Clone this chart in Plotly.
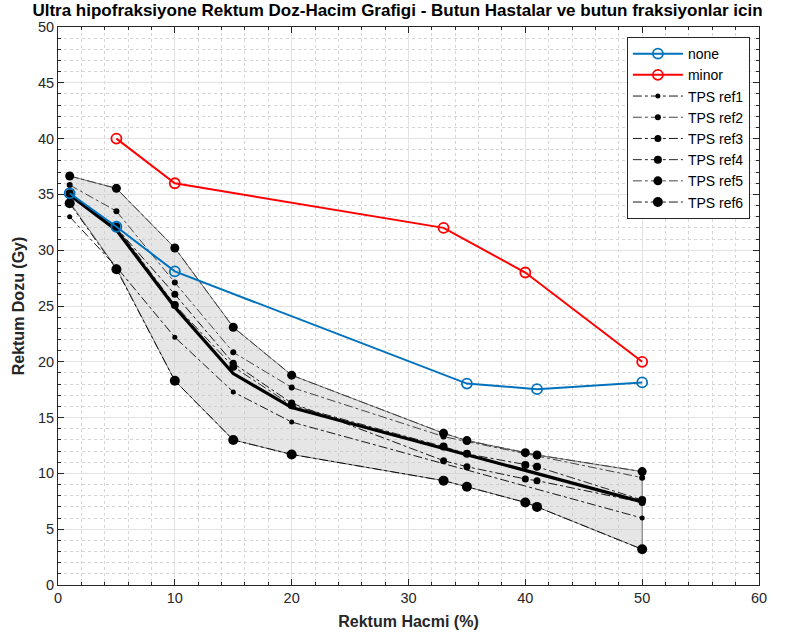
import plotly.graph_objects as go

# ---- data ----
none_x = [1, 5, 10, 35, 41, 50]
none_y = [35.1, 32.1, 28.1, 18.05, 17.55, 18.15]

minor_x = [5, 10, 33, 40, 50]
minor_y = [40.0, 36.0, 32.0, 28.0, 20.0]

ref1_x = [1, 5, 10, 15, 20, 50]
ref1_y = [33.0, 28.5, 22.2, 17.3, 14.6, 6.0]
ref2_x = [1, 5, 10, 15, 20, 33, 35, 50]
ref2_y = [35.84, 33.5, 27.1, 20.85, 17.7, 13.3, 12.85, 9.62]
ref3_x = [1, 5, 10, 15, 20, 33, 35, 40, 41, 50]
ref3_y = [34.9, 32.0, 26.05, 19.87, 16.3, 11.14, 10.6, 9.5, 9.35, 7.4]
ref4_x = [1, 5, 10, 15, 20, 33, 35, 40, 41, 50]
ref4_y = [35.1, 32.1, 25.1, 19.56, 16.1, 12.4, 11.75, 10.75, 10.6, 7.62]
ref5_x = [1, 5, 10, 15, 20, 33, 35, 40, 41, 50]
ref5_y = [36.65, 35.54, 30.2, 23.1, 18.8, 13.6, 12.94, 11.86, 11.65, 10.16]
ref6_x = [1, 5, 10, 15, 20, 33, 35, 40, 41, 50]
ref6_y = [34.2, 28.3, 18.3, 13.0, 11.7, 9.35, 8.8, 7.4, 7.0, 3.2]

mean_x = [1, 5, 10, 15, 20, 50]
mean_y = [34.95, 31.8, 24.9, 18.95, 15.9, 7.45]

band_x = [1, 5, 10, 15, 20, 33, 35, 40, 41, 50]
band_upper = [36.65, 35.54, 30.2, 23.1, 18.8, 13.6, 12.94, 11.86, 11.65, 10.16]
band_lower = [34.3, 28.4, 18.3, 13.0, 11.7, 9.35, 8.8, 7.4, 7.0, 3.2]

x_ticks = [0, 10, 20, 30, 40, 50, 60]
y_ticks = [0, 5, 10, 15, 20, 25, 30, 35, 40, 45, 50]

refs = [
    ("TPS ref1", ref1_x, ref1_y, 5, "#000000"),
    ("TPS ref2", ref2_x, ref2_y, 6, "#333333"),
    ("TPS ref3", ref3_x, ref3_y, 7, "#000000"),
    ("TPS ref4", ref4_x, ref4_y, 8, "#111111"),
    ("TPS ref5", ref5_x, ref5_y, 9, "#333333"),
    ("TPS ref6", ref6_x, ref6_y, 10, "#000000"),
]

FONT = "Liberation Sans, Arial, Helvetica, sans-serif"
fig = go.Figure()

# shaded band
fig.add_trace(go.Scatter(
    x=band_x + band_x[::-1], y=band_upper + band_lower[::-1],
    fill="toself", fillcolor="rgba(200,200,200,0.45)",
    line=dict(color="#555555", width=0.8), mode="lines",
    showlegend=False, hoverinfo="skip"))

for i, (name, xs, ys, ms, col) in enumerate(refs):
    fig.add_trace(go.Scatter(
        x=xs, y=ys, name=name, mode="lines+markers",
        line=dict(color=col, width=0.9, dash="dashdot"),
        marker=dict(color="#000000", size=ms, symbol="circle"),
        legendrank=10 + i))

fig.add_trace(go.Scatter(
    x=mean_x, y=mean_y, mode="lines", line=dict(color="#000000", width=3.2),
    showlegend=False))

fig.add_trace(go.Scatter(
    x=none_x, y=none_y, name="none", mode="lines+markers",
    line=dict(color="#0072BD", width=2),
    marker=dict(symbol="circle-open", size=10, color="#0072BD", line=dict(width=1.8)),
    legendrank=1))
fig.add_trace(go.Scatter(
    x=minor_x, y=minor_y, name="minor", mode="lines+markers",
    line=dict(color="#FF0000", width=2),
    marker=dict(symbol="circle-open", size=10, color="#FF0000", line=dict(width=1.8)),
    legendrank=2))

axis_common = dict(
    showline=True, linecolor="#262626", linewidth=1, mirror="ticks",
    ticks="inside", ticklen=6, tickcolor="#262626",
    showgrid=True, gridcolor="#e3e3e3", gridwidth=1,
    zeroline=False, tickfont=dict(family=FONT, size=14.5, color="#262626"),
)

fig.update_xaxes(
    range=[0, 60], tickvals=x_ticks, ticktext=[str(v) for v in x_ticks],
    title=dict(text="<b>Rektum Hacmi (%)</b>", font=dict(family=FONT, size=16, color="#262626"), standoff=10),
    minor=dict(dtick=2, tick0=0, showgrid=True, gridcolor="#d5d5d5", griddash="dot", gridwidth=1, ticks="inside", ticklen=3, tickcolor="#262626"),
    **axis_common)
fig.update_yaxes(
    range=[0, 50], tickvals=y_ticks, ticktext=[str(v) for v in y_ticks],
    title=dict(text="<b>Rektum Dozu (Gy)</b>", font=dict(family=FONT, size=16, color="#262626"), standoff=9),
    minor=dict(dtick=1, tick0=0, showgrid=True, gridcolor="#d5d5d5", griddash="dot", gridwidth=1, ticks="inside", ticklen=3, tickcolor="#262626"),
    **axis_common)

fig.update_layout(
    width=795, height=639,
    margin=dict(l=58, r=36, t=27, b=54),
    paper_bgcolor="white", plot_bgcolor="white",
    title=dict(text="<b>Ultra hipofraksiyone Rektum Doz-Hacim Grafigi - Butun Hastalar ve butun fraksiyonlar icin</b>",
               font=dict(family=FONT, size=17, color="#000000"), x=0.5, xanchor="center",
               yref="container", y=1.0, yanchor="top", pad=dict(t=4)),
    legend=dict(x=0.987, xanchor="right", y=0.982, yanchor="top",
                bgcolor="white", bordercolor="#262626", borderwidth=1,
                font=dict(family=FONT, size=14, color="#000000"),
                itemwidth=50, tracegroupgap=0),
    showlegend=True,
)

fig.write_html("out.html")
